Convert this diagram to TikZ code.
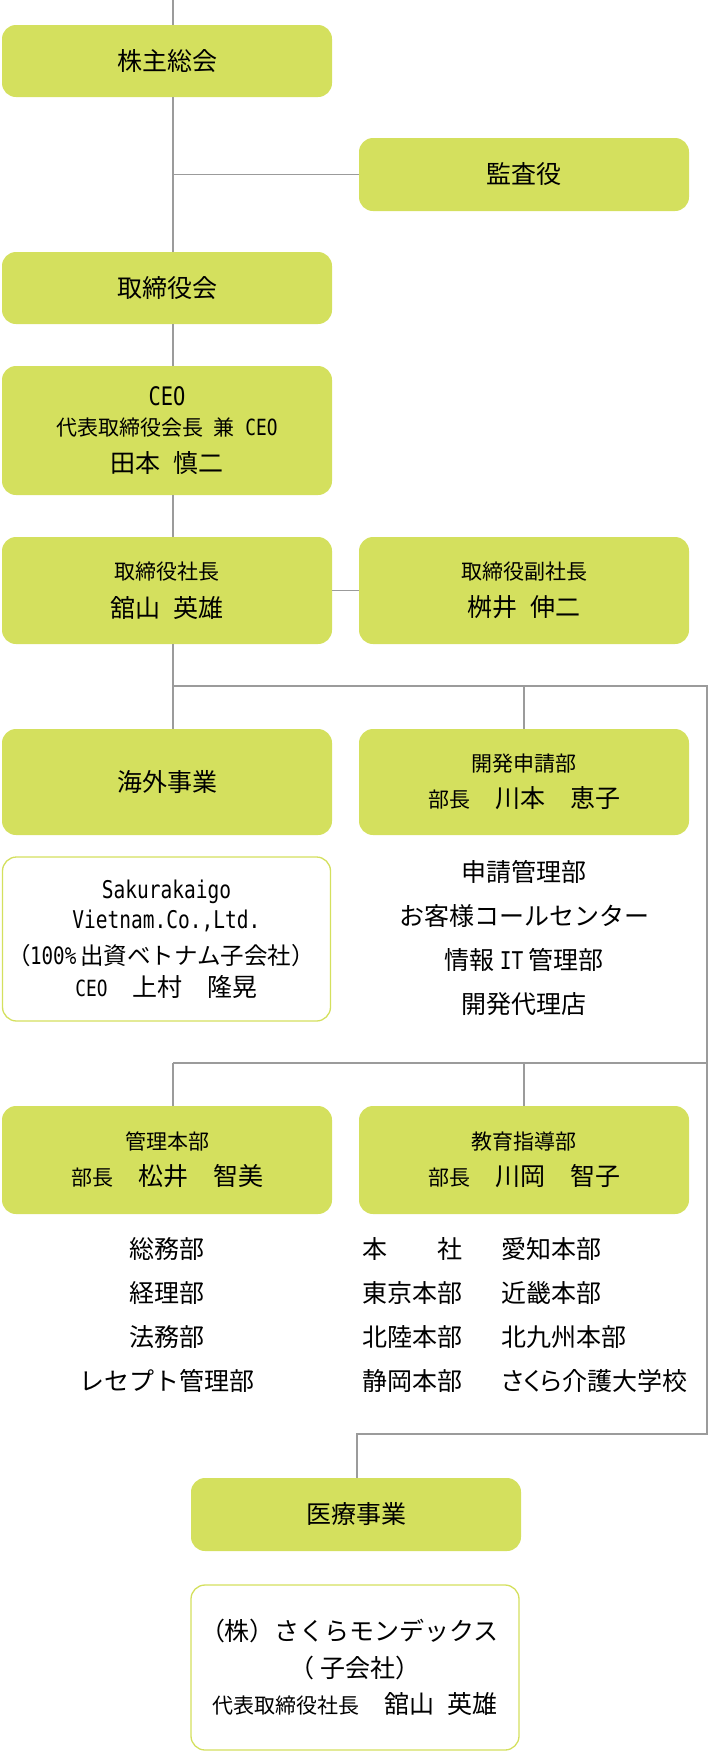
\documentclass[tikz,border=0pt]{standalone}
\usepackage{fontspec}
\setmainfont{Noto Sans CJK JP}
\newfontfamily\latfont{DejaVu Sans Mono}[FakeStretch=0.8]
\usetikzlibrary{positioning,calc}
\definecolor{boxgreen}{RGB}{212,224,94}
\definecolor{linegray}{RGB}{155,155,155}
\newcommand\fbig{\fontsize{25}{30}\selectfont}
\newcommand\fsmall{\fontsize{21}{26}\selectfont}
\newcommand\fmono{\latfont\fontsize{24.4}{26}\selectfont}
\newcommand\fmonosmall{\latfont\fontsize{22.3}{22}\selectfont}
\newcommand\jsp{\hspace{0.5em}}
\newcommand\prop[1]{{\addfontfeature{RawFeature=+palt}#1}}

\begin{document}
\begin{tikzpicture}[x=1pt,y=-1pt] % pixel grid, origin at the top left
\tikzset{greenbox/.style={fill=boxgreen,rounded corners=14pt,minimum width=330pt,inner sep=0pt,align=center,font=\fbig}} % filled boxes
\tikzset{whitebox/.style={draw=boxgreen,line width=1.3pt,fill=white,rounded corners=14pt,minimum width=328pt,inner sep=0pt,align=center,font=\fbig}} % outlined boxes
\tikzset{listtext/.style={inner sep=0pt,font=\fontsize{25}{44}\selectfont}}
\tikzset{link/.style={draw=linegray,line width=1.3pt}}
\useasboundingbox (0,0) rectangle (708,1751);
\coordinate (spine) at (173,0); % main vertical line
\coordinate (rail) at (707,0); % right vertical line
\coordinate (bus1) at (173,686);
\coordinate (bus2) at (173,1063);
\coordinate (bus3) at (357,1434);
% boxes
\node[greenbox,minimum height=72pt] (kabu) at (167,61) {株主総会};
\node[greenbox,minimum height=73pt] (kansa) at (524,174.5) {監査役};
\node[greenbox,minimum height=72pt] (torikai) at (167,288) {取締役会};
\node[greenbox,minimum height=129pt] (ceo) at (167,430.5) {{\latfont\fontsize{25.5}{26}\selectfont CEO}\\{\fsmall 代表取締役会長\jsp 兼\jsp{\fmonosmall CEO}}\\[7pt]田本\jsp 慎二};
\node[greenbox,minimum height=107pt] (shacho) at (167,590.5) {{\fsmall 取締役社長}\\[7.5pt]舘山\jsp 英雄};
\node[greenbox,minimum height=107pt] (fukushacho) at (524,590.5) {{\fsmall 取締役副社長}\\[7.5pt]桝井\jsp 伸二};
\node[greenbox,minimum height=106pt] (kaigai) at (167,782) {海外事業};
\node[greenbox,minimum height=106pt] (kaihatsu) at (524,782) {{\fsmall 開発申請部}\\[6pt]{\fsmall 部長}　川本　恵子};
\node[whitebox,minimum height=164pt] (vietnam) at (166.5,939) {{\fmono Sakurakaigo}\\{\fmono Vietnam.Co.,Ltd.}\\[6.5pt]{\fontsize{23.5}{30}\selectfont \prop{（}{\latfont\fontsize{24}{26}\selectfont 100\%}\hspace{4pt}出資ベトナム子会社）}\\[1.5pt]{\fmonosmall CEO}　上村　隆晃};
\node[greenbox,minimum height=108pt] (kanri) at (167,1160) {{\fsmall 管理本部}\\[6pt]{\fsmall 部長}　松井　智美};
\node[greenbox,minimum height=108pt] (kyoiku) at (524,1160) {{\fsmall 教育指導部}\\[6pt]{\fsmall 部長}　川岡　智子};
\node[greenbox,minimum height=73pt] (iryo) at (356,1514.5) {医療事業};
\node[whitebox,minimum height=165pt] (monde) at (355,1667.5) {\prop{（}株）さくらモンデックス\\[7pt]（ 子会社）\\[5.5pt]{\fsmall 代表取締役社長}　舘山\jsp 英雄};
% lists
\node[listtext,align=center] (kaihatsulist) at (524,937.5) {申請管理部\\お客様コールセンター\\情報 {\fmono IT} 管理部\\開発代理店};
\node[listtext,align=center] (kanrilist) at (167,1315) {総務部\\経理部\\法務部\\レセプト管理部};
\node[listtext,align=left,anchor=west] (honbulist) at (362,1315) {本　　社\\東京本部\\北陸本部\\静岡本部};
\node[listtext,align=left,anchor=west] (shibulist) at (501,1315) {愛知本部\\近畿本部\\北九州本部\\\prop{さくら}介護大学校};
% connectors
\draw[link] (spine) -- (kabu.north -| spine);
\draw[link] (kabu.south -| spine) -- (torikai.north -| spine);
\draw[link] (kansa.west) -- (kansa.west -| spine);
\draw[link] (torikai.south -| spine) -- (ceo.north -| spine);
\draw[link] (ceo.south -| spine) -- (shacho.north -| spine);
\draw[link] (shacho.east) -- (fukushacho.west);
\draw[link] (shacho.south -| spine) -- (kaigai.north -| spine);
\draw[link] (bus1) -- (bus1 -| rail) -- (bus3 -| rail) -- (bus3) -- (iryo.north -| bus3);
\draw[link] (bus1 -| kaihatsu) -- (kaihatsu.north);
\draw[link] (bus2) -- (bus2 -| rail);
\draw[link] (bus2) -- (kanri.north -| bus2);
\draw[link] (bus2 -| kyoiku) -- (kyoiku.north);
\end{tikzpicture}
\end{document}
